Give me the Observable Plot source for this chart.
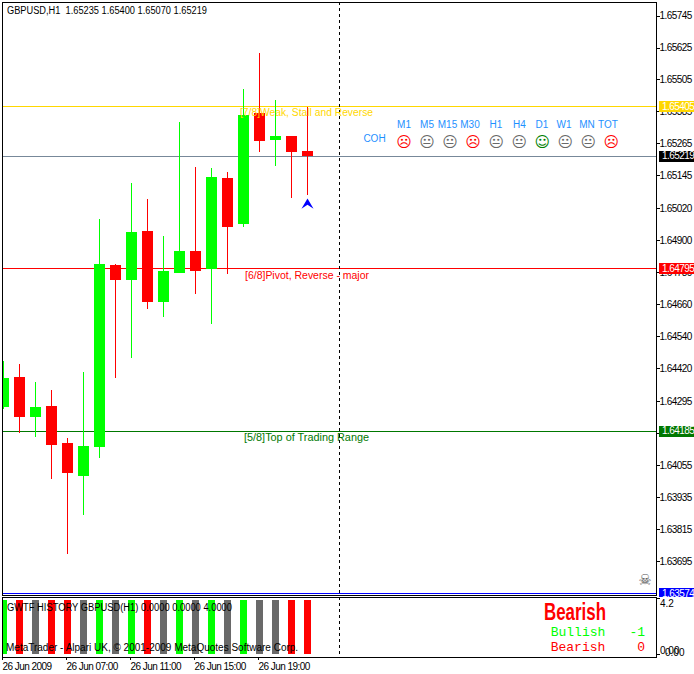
<!DOCTYPE html>
<html>
<head>
<meta charset="utf-8">
<script src="https://cdn.jsdelivr.net/npm/d3@7"></script>
<script src="https://cdn.jsdelivr.net/npm/@observablehq/plot@0.6"></script>
<style>
html,body{margin:0;padding:0;background:#fff;overflow:hidden}
svg{display:block;background:#fff}
</style>
</head>
<body>
<div id="chart"></div>
<script>
const opens  = [1.64275,1.64386,1.64237,1.64277,1.64139,1.64016,1.64125,1.64806,1.64751,1.64934,1.64668,1.64777,1.64859,1.64792,1.65136,1.64960,1.65379,1.65279,1.65294,1.65235];
const highs  = [1.64447,1.64435,1.64367,1.64337,1.64157,1.64405,1.64979,1.64810,1.65117,1.65054,1.64915,1.65346,1.65177,1.65174,1.65159,1.65470,1.65605,1.65429,1.65294,1.65400];
const lows   = [1.64266,1.64176,1.64162,1.64004,1.63720,1.63866,1.64083,1.64383,1.64457,1.64641,1.64612,1.64777,1.64698,1.64586,1.64772,1.64949,1.65234,1.65181,1.65061,1.65070];
const closes = [1.64382,1.64237,1.64274,1.64132,1.64027,1.64127,1.64810,1.64751,1.64930,1.64668,1.64784,1.64859,1.64785,1.65140,1.64952,1.65372,1.65275,1.65294,1.65234,1.65219];
const history = ["up","down","flat","down","down","flat","up","flat","up","down","flat","up","flat","up","flat","up","flat","flat","down","down"];
const priceTicks = [1.65745,1.65625,1.65505,1.65385,1.65265,1.65145,1.65020,1.64900,1.64780,1.64660,1.64540,1.64420,1.64295,1.64175,1.64055,1.63935,1.63815,1.63695];
const levelNames = ["[7/8]Weak, Stall and Reverse","[6/8]Pivot, Reverse - major","[5/8]Top of Trading Range"];
const levelPrices = [1.65405,1.64795,1.64185];
const levelColors = ["#FFD700","#FF0000","#007800"];
const tagPrices = [1.65405,1.65219,1.64795,1.64185,1.63574];
const tagColors = ["#FFD700","#000000","#FF0000","#007800","#0000FF"];
const timeTicks = [0,4,8,12,16];
const timeLabels = ["26 Jun 2009","26 Jun 07:00","26 Jun 11:00","26 Jun 15:00","26 Jun 19:00"];
const frames = ["M1","M5","M15","M30","H1","H4","D1","W1","MN","TOT"];
const moods = ["sad","flat","flat","sad","flat","flat","happy","flat","flat","sad"];

const candles = opens.map((o,i)=>({i,o,h:highs[i],l:lows[i],c:closes[i],col:closes[i]>=o?"#00FF00":"#FF0000"}));
const UI = "'Liberation Sans',Arial,sans-serif";
const MONO = "'Liberation Mono',monospace";
const moodColor = {sad:"#FF0000",flat:"#696969",happy:"#008000"};
const moodGlyph = {sad:"\u2639",flat:"\uD83D\uDE10",happy:"\u263A"};
const X0 = -0.0625, X1 = 40.8125, W = 694;
const xScale = {type:"linear",domain:[X0,X1],range:[2,656]};
const px = p => (p-3.5)/16;            // panel layout expressed in the x scale
const slotCenters = [404,427,447.5,470,496,519.5,542,564,587,608];
const smileCenters = frames.map((f,i)=>404+23*i+(i>3?0.3:0));
const levelStarts = [240,245,244], levelWidths = [133,124,125];
const arrowSym = {draw(c,s){const r=Math.sqrt(s);c.moveTo(0,-r*.5);c.lineTo(r*.6,r*.5);c.lineTo(0,r*.12);c.lineTo(-r*.6,r*.5);c.closePath();}};
const crisp = {shapeRendering:"crispEdges"};

const main = Plot.plot({
  width:W,height:597,marginLeft:2,marginRight:38,marginTop:2.3,marginBottom:1.7,
  style:{background:"#fff",fontFamily:UI,overflow:"hidden"},
  x:{...xScale,axis:null},
  y:{domain:[1.63566,1.65795],range:[595.3,2.3],axis:null},
  marks:[
    Plot.axisY(priceTicks,{anchor:"right",tickSize:3,tickPadding:0,fontSize:10,tickFormat:d3.format(".5f"),stroke:"#000",fill:"#000",label:null,...crisp}),
    Plot.ruleY([1.65405],{x1:X0,x2:X1,stroke:"#FFD700",...crisp}),
    Plot.ruleY([1.65219],{x1:X0,x2:X1,stroke:"#778899",...crisp}),
    Plot.ruleY([1.64795],{x1:X0,x2:X1,stroke:"#FF0000",...crisp}),
    Plot.ruleY([1.64185],{x1:X0,x2:X1,stroke:"#007800",...crisp}),
    Plot.ruleY([1.63574],{x1:X0,x2:X1,stroke:"#0000FF",...crisp}),
    Plot.ruleX(candles,{x:"i",y1:"l",y2:"h",stroke:"col",strokeWidth:1,clip:true,...crisp}),
    Plot.ruleX(candles,{x:"i",y1:"o",y2:"c",stroke:"col",strokeWidth:11,clip:true,...crisp}),
    Plot.ruleX([21],{stroke:"#000",strokeDasharray:"3,3",...crisp}),
    Plot.ruleY(tagPrices.map((p,i)=>({p,c:tagColors[i]})),{y:"p",x1:px(659),x2:px(695),stroke:"c",strokeWidth:11,...crisp}),
    Plot.text(tagPrices,{y:d=>d,x:px(662),text:d=>d.toFixed(5),fill:"#fff",textAnchor:"start",lineAnchor:"middle",fontSize:10}),
    Plot.text(["GBPUSD,H1  1.65235 1.65400 1.65070 1.65219"],{x:px(7),y:1.65745,dy:-5,text:d=>d,textAnchor:"start",lineAnchor:"middle",fontSize:10,fill:"#000"}),
    Plot.text(levelNames.map((n,i)=>({n,p:levelPrices[i],c:levelColors[i]})),{x:(d,i)=>px(levelStarts[i]),y:"p",dy:6.5,text:"n",fill:"c",textAnchor:"start",lineAnchor:"middle",fontSize:10}),
    Plot.text(frames,{x:(d,i)=>px(slotCenters[i]),y:1.65336,text:d=>d,fill:"#1E90FF",fontSize:10,lineAnchor:"middle"}),
    Plot.text(["COH"],{x:px(374.5),y:1.65282,text:d=>d,fill:"#1E90FF",fontSize:10,lineAnchor:"middle"}),
    Plot.text(moods,{x:(d,i)=>px(smileCenters[i]),y:1.65272,text:d=>moodGlyph[d],fill:d=>moodColor[d],fontFamily:"'DejaVu Sans'",fontSize:15,lineAnchor:"middle"}),
    Plot.dot([{i:19,p:1.65040}],{x:"i",y:"p",r:5.7,symbol:arrowSym,fill:"#0000FF",stroke:"none"}),
    Plot.text(["\u2620"],{x:px(645),y:1.63625,text:d=>d,fill:"#555555",fontFamily:"'DejaVu Sans'",fontSize:15,lineAnchor:"middle"}),
    Plot.frame({stroke:"#000",...crisp})
  ]
});

const subData = history.map((s,i)=>({i,v:4,s}));
const sub = Plot.plot({
  width:W,height:77,marginLeft:2,marginRight:38,marginTop:0,marginBottom:17,
  style:{background:"#fff",fontFamily:UI,overflow:"hidden"},
  x:{...xScale,axis:null},
  y:{domain:[-0.25,4.25],range:[60,0],axis:null},
  marks:[
    Plot.axisX(timeTicks,{anchor:"bottom",tickSize:3,tickPadding:2,textAnchor:"start",fontSize:10,dx:-1,label:null,tickFormat:d=>timeLabels[timeTicks.indexOf(d)],...crisp}),
    Plot.axisY([4.2,0],{anchor:"right",tickSize:3,label:null,tickFormat:()=>"",...crisp}),
    Plot.ruleX(subData,{x:"i",y1:0,y2:"v",stroke:d=>({up:"#00FF00",down:"#FF0000",flat:"#696969"})[d.s],strokeWidth:7,clip:true,...crisp}),
    Plot.ruleX([21],{stroke:"#000",strokeDasharray:"3,3",...crisp}),
    Plot.text(["GWTF HISTORY GBPUSD(H1) 0.0000 0.0000 4.0000"],{x:px(7),y:3.45,text:d=>d,textAnchor:"start",lineAnchor:"middle",fontSize:10,fill:"#000"}),
    Plot.text(["MetaTrader - Alpari UK, \u00A9 2001-2009 MetaQuotes Software Corp."],{x:px(6),y:0.45,text:d=>d,textAnchor:"start",lineAnchor:"middle",fontSize:10,fill:"#000"}),
    Plot.text(["4.2"],{x:px(660),y:4.2,dy:6,text:d=>d,textAnchor:"start",lineAnchor:"middle",fontSize:10,fill:"#000"}),
    Plot.text(["0.00"],{x:px(660),y:0,dy:-3,text:d=>d,textAnchor:"start",lineAnchor:"middle",fontSize:10,fill:"#000"}),
    Plot.text(["0.00"],{x:px(665),y:0,dy:-1,text:d=>d,textAnchor:"start",lineAnchor:"middle",fontSize:10,fill:"#000"}),
    Plot.text(["Bearish"],{x:px(575),y:3.15,text:d=>d,fill:"#FF0000",fontWeight:"bold",fontSize:23,lineAnchor:"middle"}),
    Plot.text(["Bullish"],{x:px(578),y:1.7,text:d=>d,fill:"#00FF00",fontFamily:MONO,fontSize:13,lineAnchor:"middle"}),
    Plot.text(["-1"],{x:px(645),y:1.7,text:d=>d,fill:"#00FF00",fontFamily:MONO,fontSize:13,lineAnchor:"middle",textAnchor:"end"}),
    Plot.text(["Bearish"],{x:px(578),y:0.57,text:d=>d,fill:"#FF0000",fontFamily:MONO,fontSize:13,lineAnchor:"middle"}),
    Plot.text(["0"],{x:px(645),y:0.57,text:d=>d,fill:"#FF0000",fontFamily:MONO,fontSize:13,lineAnchor:"middle",textAnchor:"end"}),
    Plot.frame({stroke:"#000",...crisp})
  ]
});
// Fit the captions to the widths of the original's bitmap font.
const texts = (root,test) => d3.select(root).selectAll("text").filter(function(){return test(this.textContent,this);});
const fit = (root,test,width) => texts(root,test).attr("textLength",width).attr("lengthAdjust","spacingAndGlyphs");
fit(main,s=>s.startsWith("GBPUSD,H1"),200);
levelNames.forEach((n,i)=>fit(main,s=>s===n,levelWidths[i]));
fit(sub,s=>s.startsWith("GWTF"),225);
fit(sub,(s,node)=>s==="Bearish" && node.parentNode.getAttribute("font-weight")==="bold",62);
texts(main,s=>/^1\.6\d{4}$/.test(s)).style("letter-spacing","-.55px");
texts(sub,s=>s.startsWith("26 Jun")).style("letter-spacing","-.55px");
document.getElementById("chart").append(main,sub);
</script>
</body>
</html>
